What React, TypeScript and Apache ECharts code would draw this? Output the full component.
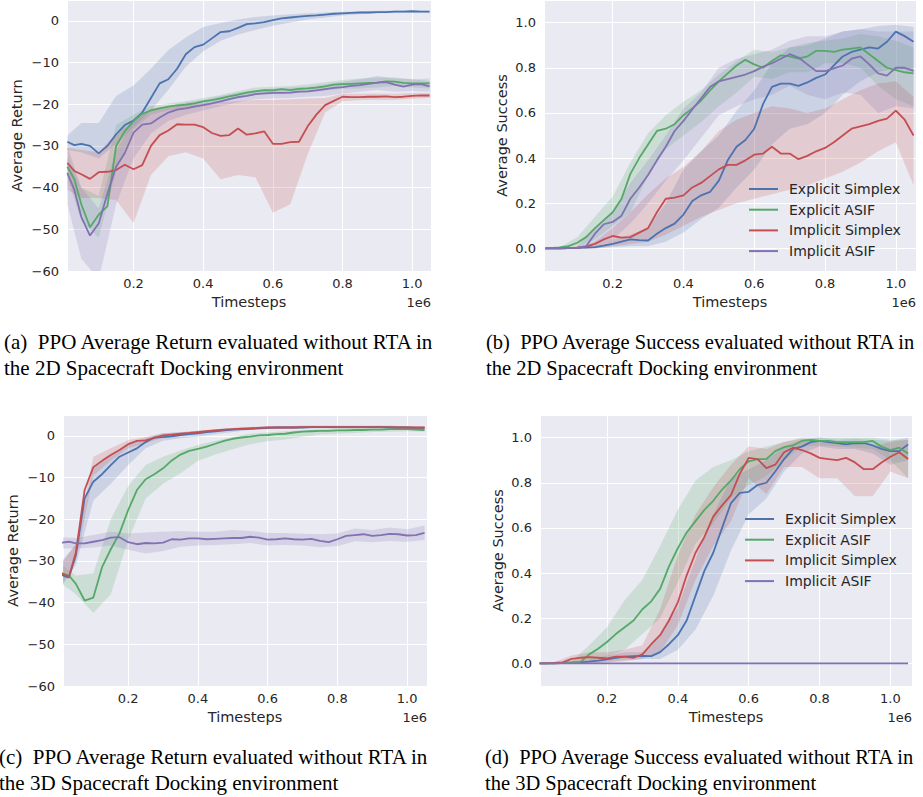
import React, { useEffect, useRef } from 'react';
import * as echarts from 'echarts';

// ---------- shared x positions (in millions of timesteps) ----------
const X = [0.01, 0.03, 0.05, 0.075, 0.1, 0.125, 0.15, 0.175, 0.2, 0.225, 0.25, 0.275, 0.3, 0.325, 0.35, 0.375, 0.4, 0.425, 0.45, 0.475, 0.5, 0.525, 0.55, 0.575, 0.6, 0.625, 0.65, 0.675, 0.7, 0.725, 0.75, 0.775, 0.8, 0.825, 0.85, 0.875, 0.9, 0.925, 0.95, 0.975, 1.0, 1.025, 1.05];
const BAND_X = [0.01, 0.05, 0.1, 0.15, 0.2, 0.25, 0.3, 0.35, 0.4, 0.45, 0.5, 0.55, 0.6, 0.65, 0.7, 0.75, 0.8, 0.85, 0.9, 0.95, 1.0, 1.05];

const SERIES_NAMES = ['Explicit Simplex', 'Explicit ASIF', 'Implicit Simplex', 'Implicit ASIF'];
const X_TICKS = [0.2, 0.4, 0.6, 0.8, 1.0];

// ---------- (a) 2D average return ----------
const A_ES = [-29.0, -29.8, -29.5, -30.0, -31.8, -30.0, -27.2, -25.0, -23.9, -22.0, -18.5, -15.0, -14.0, -11.5, -8.0, -6.3, -5.7, -4.2, -2.7, -2.5, -1.7, -0.8, -0.6, -0.3, 0.2, 0.6, 0.8, 1.0, 1.2, 1.3, 1.5, 1.7, 1.8, 1.9, 2.0, 2.0, 2.1, 2.1, 2.2, 2.2, 2.3, 2.2, 2.2];
const A_EA = [-35, -38, -44, -49.5, -46.5, -44.5, -30, -26.5, -24, -22.3, -21.5, -21.0, -20.6, -20.3, -20.1, -19.8, -19.3, -19.0, -18.6, -18.1, -17.7, -17.2, -16.9, -16.6, -16.7, -16.4, -16.6, -16.3, -16.2, -16.0, -15.7, -15.3, -15.2, -15.1, -15.0, -14.9, -14.8, -14.5, -14.6, -14.9, -15.0, -15.0, -15.0];
const A_IS = [-34.1, -36.0, -36.8, -37.9, -36.3, -36.2, -35.8, -34.5, -35.6, -34.6, -30.0, -27.4, -26.3, -24.8, -24.9, -24.9, -25.5, -26.9, -27.6, -27.4, -25.8, -27.3, -27.0, -26.5, -29.5, -29.5, -29.1, -29.0, -25.3, -22.5, -20.2, -19.2, -18.2, -18.3, -18.3, -18.2, -18.2, -18.1, -18.3, -18.2, -18.0, -17.9, -17.9];
const A_IA = [-36.5, -40.5, -47, -51.5, -48.6, -41.5, -35.0, -31.7, -26.8, -24.9, -24.6, -23.2, -22.0, -21.3, -21.0, -20.6, -20.2, -19.8, -19.3, -18.8, -18.3, -18.0, -17.6, -17.4, -17.3, -17.3, -17.2, -17.0, -16.9, -16.7, -16.4, -16.1, -15.9, -15.6, -15.4, -15.1, -14.8, -14.7, -15.3, -15.8, -15.3, -15.2, -15.7];
const A_ES_LO = [-31, -31.5, -33, -29.5, -25.5, -21.5, -16.5, -11, -7.3, -4.8, -3.3, -2.2, -1.2, -0.4, 0.3, 0.8, 1.3, 1.6, 1.8, 1.9, 2.0, 1.9];
const A_ES_HI = [-27.5, -24.5, -24.5, -18, -15.5, -11.5, -7, -4, -1.5, -0.5, 0.3, 0.9, 1.3, 1.6, 1.8, 2.0, 2.2, 2.3, 2.4, 2.5, 2.5, 2.4];
const A_EA_LO = [-37.5, -48, -52, -36, -26, -22.5, -21.5, -21, -20.2, -19.5, -18.6, -17.8, -17.6, -17.5, -17.2, -16.7, -16.3, -16.2, -16, -15.6, -16, -16.2];
const A_EA_HI = [-32.5, -40, -42, -25, -22.5, -20.5, -19.8, -19.3, -18.5, -17.8, -16.8, -16, -15.8, -15.6, -15.2, -14.7, -14.2, -13.8, -13.6, -13.6, -14, -13.8];
const A_IS_LO = [-40.5, -42.5, -42.5, -43, -48.5, -37, -32.5, -31.5, -33, -38, -37, -37.5, -46, -44, -32, -22, -19.3, -19, -18.9, -19, -18.7, -18.5];
const A_IS_HI = [-30.5, -31, -31.5, -27, -24, -21, -20.5, -20, -19.8, -19.5, -19.2, -19, -19, -18.8, -18.6, -18.5, -17.5, -17.5, -17.4, -17.5, -17.3, -17.3];
const A_IA_LO = [-44, -57, -62, -44, -33, -27, -24, -22.5, -21.5, -20.5, -19.5, -18.8, -18.6, -18.5, -18.2, -18, -17.4, -17, -16.6, -17, -16.8, -17];
const A_IA_HI = [-30, -40, -45, -31, -24, -21.5, -20.5, -19.5, -19, -18, -17.2, -16.6, -16.2, -16, -15.8, -15.2, -14.6, -14, -13.2, -13.8, -14, -14.5];

// ---------- (b) 2D average success ----------
const B_ES = [0, 0, 0, 0.001, 0.002, 0.004, 0.006, 0.012, 0.02, 0.03, 0.04, 0.037, 0.035, 0.065, 0.09, 0.11, 0.15, 0.21, 0.235, 0.25, 0.30, 0.39, 0.45, 0.48, 0.53, 0.64, 0.715, 0.73, 0.73, 0.72, 0.735, 0.755, 0.77, 0.81, 0.85, 0.87, 0.88, 0.89, 0.885, 0.915, 0.96, 0.94, 0.915];
const B_EA = [0.0, 0.002, 0.005, 0.01, 0.025, 0.05, 0.09, 0.125, 0.16, 0.22, 0.33, 0.40, 0.46, 0.52, 0.53, 0.55, 0.59, 0.62, 0.655, 0.70, 0.74, 0.775, 0.81, 0.835, 0.815, 0.80, 0.83, 0.855, 0.85, 0.84, 0.85, 0.875, 0.875, 0.87, 0.88, 0.885, 0.89, 0.86, 0.83, 0.80, 0.79, 0.78, 0.775];
const B_IS = [0, 0, 0, 0.001, 0.003, 0.008, 0.02, 0.04, 0.055, 0.048, 0.05, 0.07, 0.09, 0.16, 0.22, 0.225, 0.235, 0.27, 0.29, 0.32, 0.35, 0.37, 0.37, 0.39, 0.415, 0.42, 0.45, 0.42, 0.42, 0.395, 0.41, 0.43, 0.445, 0.47, 0.50, 0.53, 0.54, 0.55, 0.565, 0.575, 0.61, 0.57, 0.50];
const B_IA = [0, 0, 0, 0.001, 0.003, 0.01, 0.065, 0.107, 0.117, 0.145, 0.22, 0.27, 0.325, 0.39, 0.45, 0.52, 0.565, 0.615, 0.665, 0.715, 0.74, 0.75, 0.76, 0.77, 0.785, 0.805, 0.82, 0.84, 0.86, 0.845, 0.815, 0.785, 0.785, 0.797, 0.81, 0.84, 0.85, 0.815, 0.775, 0.765, 0.80, 0.80, 0.786];
const B_ES_LO = [0, 0, 0, 0, 0.005, 0.01, 0.01, 0.03, 0.07, 0.13, 0.18, 0.27, 0.35, 0.46, 0.53, 0.55, 0.6, 0.68, 0.74, 0.78, 0.8, 0.78];
const B_ES_HI = [0, 0, 0.005, 0.01, 0.04, 0.06, 0.09, 0.2, 0.35, 0.43, 0.5, 0.61, 0.7, 0.82, 0.89, 0.9, 0.93, 0.96, 0.97, 0.985, 0.99, 0.98];
const B_EA_LO = [0, 0, 0.005, 0.04, 0.10, 0.16, 0.32, 0.44, 0.50, 0.56, 0.63, 0.69, 0.76, 0.75, 0.78, 0.78, 0.82, 0.82, 0.80, 0.72, 0.66, 0.63];
const B_EA_HI = [0.002, 0.005, 0.05, 0.14, 0.23, 0.38, 0.51, 0.59, 0.65, 0.70, 0.77, 0.83, 0.88, 0.87, 0.89, 0.91, 0.92, 0.93, 0.95, 0.94, 0.92, 0.89];
const B_IS_LO = [0, 0, 0, 0, 0.01, 0.02, 0.03, 0.06, 0.1, 0.14, 0.17, 0.2, 0.22, 0.24, 0.26, 0.28, 0.31, 0.34, 0.38, 0.43, 0.47, 0.28];
const B_IS_HI = [0, 0, 0.005, 0.03, 0.09, 0.16, 0.24, 0.31, 0.36, 0.43, 0.52, 0.57, 0.6, 0.63, 0.62, 0.6, 0.62, 0.66, 0.7, 0.73, 0.74, 0.67];
const B_IA_LO = [0, 0, 0, 0.01, 0.04, 0.11, 0.2, 0.3, 0.39, 0.49, 0.59, 0.63, 0.66, 0.68, 0.72, 0.68, 0.66, 0.69, 0.68, 0.6, 0.63, 0.62];
const B_IA_HI = [0, 0.002, 0.01, 0.09, 0.16, 0.29, 0.39, 0.5, 0.62, 0.69, 0.8, 0.84, 0.86, 0.88, 0.92, 0.94, 0.94, 0.96, 0.97, 0.96, 0.96, 0.96];

// ---------- (c) 3D average return ----------
const C_ES = [-33.4, -34.0, -28.5, -15, -11, -9.2, -7, -5, -4, -3, -1.5, -0.4, -0.3, -0.1, 0.2, 0.4, 0.6, 0.9, 1.1, 1.3, 1.5, 1.6, 1.7, 1.8, 1.9, 2.0, 2.0, 2.0, 2.0, 2.1, 2.1, 2.1, 2.1, 2.1, 2.1, 2.1, 2.1, 2.1, 2.0, 2.0, 2.0, 1.9, 1.9];
const C_EA = [-33, -33.5, -35.5, -39.5, -38.8, -31.5, -27.2, -23.4, -17.8, -13, -10.4, -9.2, -7.8, -5.9, -4.5, -3.6, -3.1, -2.6, -1.9, -1.2, -0.7, -0.4, -0.2, 0.1, 0.2, 0.4, 0.5, 0.8, 1.0, 1.1, 1.2, 1.2, 1.3, 1.3, 1.4, 1.4, 1.5, 1.5, 1.6, 1.6, 1.6, 1.5, 1.4];
const C_IS = [-33, -33.8, -28, -13, -7.5, -6.0, -4.6, -3.4, -2.0, -1.2, -1.1, -0.5, 0.1, 0.3, 0.5, 0.7, 0.9, 1.1, 1.3, 1.5, 1.6, 1.7, 1.8, 1.9, 2.0, 2.0, 2.0, 2.0, 2.1, 2.1, 2.1, 2.1, 2.1, 2.1, 2.1, 2.1, 2.1, 2.1, 2.1, 2.0, 2.0, 2.0, 2.0];
const C_IA = [-25.6, -25.4, -25.8, -25.8, -25.4, -25.0, -24.4, -24.3, -25.5, -26.0, -25.7, -25.8, -25.6, -24.8, -24.9, -24.6, -24.6, -24.8, -24.7, -24.6, -24.5, -24.5, -24.2, -24.4, -24.9, -24.8, -24.6, -24.8, -24.9, -24.7, -25.2, -25.5, -24.8, -24.0, -23.8, -23.6, -24.0, -23.8, -23.5, -23.6, -23.9, -23.8, -23.3];
const C_ES_LO = [-36, -31, -15.5, -11.5, -7, -3, -1.2, -0.6, -0.2, 0.4, 0.9, 1.4, 1.6, 1.7, 1.8, 1.8, 1.8, 1.8, 1.8, 1.8, 1.7, 1.6];
const C_ES_HI = [-30, -26, -7.5, -4.5, -2, -0.5, 0.6, 0.9, 1.2, 1.6, 1.9, 2.1, 2.3, 2.3, 2.4, 2.4, 2.4, 2.4, 2.4, 2.4, 2.3, 2.2];
const C_EA_LO = [-35.5, -38, -42.5, -38, -25, -15, -11.5, -9, -6, -4.5, -3.2, -2.0, -1.3, -0.9, -0.2, 0.3, 0.5, 0.7, 0.9, 1.0, 1.1, 1.0];
const C_EA_HI = [-31, -33.5, -33, -20, -12, -7, -5, -3.5, -2.2, -1.2, -0.3, 0.5, 0.8, 1.1, 1.4, 1.6, 1.8, 1.9, 2.0, 2.1, 2.1, 2.0];
const C_IS_LO = [-35.5, -30, -9.5, -6, -3, -1.8, -0.4, 0.2, 0.6, 1.0, 1.3, 1.5, 1.7, 1.8, 1.8, 1.8, 1.8, 1.8, 1.8, 1.8, 1.7, 1.7];
const C_IS_HI = [-30.5, -26, -5, -3, -1, -0.3, 0.6, 0.8, 1.2, 1.6, 1.9, 2.1, 2.3, 2.3, 2.4, 2.4, 2.4, 2.4, 2.4, 2.4, 2.3, 2.3];
const C_IA_LO = [-27, -27, -26.8, -26.3, -27.3, -28.2, -27.6, -26.6, -26.3, -26.2, -26, -25.7, -26.3, -26.2, -26.3, -26.7, -26.4, -25.3, -25.5, -25.2, -25.4, -25];
const C_IA_HI = [-24.3, -24.5, -23.8, -23.0, -23.4, -23.2, -23, -22.8, -23.0, -23, -22.6, -22.8, -23.3, -23.3, -23.5, -23.6, -23.4, -22.2, -22.6, -22.0, -22.4, -21.5];

// ---------- (d) 3D average success ----------
const D_ES = [0, 0, 0, 0.001, 0.003, 0.005, 0.008, 0.012, 0.018, 0.025, 0.03, 0.032, 0.033, 0.032, 0.05, 0.085, 0.125, 0.19, 0.3, 0.41, 0.49, 0.6, 0.71, 0.755, 0.76, 0.79, 0.8, 0.85, 0.905, 0.95, 0.96, 0.98, 0.985, 0.98, 0.975, 0.97, 0.975, 0.975, 0.965, 0.95, 0.94, 0.94, 0.97];
const D_EA = [0, 0, 0, 0.002, 0.004, 0.007, 0.04, 0.065, 0.095, 0.13, 0.16, 0.19, 0.24, 0.275, 0.33, 0.43, 0.51, 0.58, 0.63, 0.68, 0.72, 0.77, 0.81, 0.86, 0.895, 0.905, 0.905, 0.94, 0.958, 0.965, 0.985, 0.99, 0.985, 0.985, 0.98, 0.98, 0.98, 0.98, 0.985, 0.96, 0.945, 0.955, 0.93];
const D_IS = [0, 0, 0.002, 0.005, 0.02, 0.025, 0.028, 0.025, 0.022, 0.03, 0.03, 0.025, 0.04, 0.085, 0.125, 0.19, 0.27, 0.39, 0.49, 0.56, 0.65, 0.70, 0.745, 0.84, 0.91, 0.905, 0.865, 0.88, 0.935, 0.955, 0.945, 0.93, 0.91, 0.905, 0.90, 0.91, 0.89, 0.86, 0.86, 0.89, 0.915, 0.935, 0.905];
const D_IA = [0, 0, 0, 0, 0, 0, 0, 0, 0, 0, 0, 0, 0, 0, 0, 0, 0, 0, 0, 0, 0, 0, 0, 0, 0, 0, 0, 0, 0, 0, 0, 0, 0, 0, 0, 0, 0, 0, 0, 0, 0, 0, 0];
const D_ES_LO = [0, 0, 0, 0, 0.005, 0.015, 0.02, 0.02, 0.06, 0.15, 0.3, 0.5, 0.66, 0.73, 0.85, 0.93, 0.96, 0.95, 0.95, 0.93, 0.88, 0.9];
const D_ES_HI = [0, 0, 0.01, 0.02, 0.035, 0.05, 0.05, 0.12, 0.25, 0.46, 0.66, 0.82, 0.86, 0.9, 0.96, 0.99, 1.0, 0.99, 0.995, 0.99, 0.985, 1.0];
const D_EA_LO = [0, 0, 0, 0.01, 0.03, 0.06, 0.13, 0.2, 0.36, 0.53, 0.62, 0.73, 0.79, 0.83, 0.9, 0.96, 0.965, 0.96, 0.955, 0.95, 0.9, 0.82];
const D_EA_HI = [0, 0, 0.01, 0.08, 0.16, 0.28, 0.37, 0.52, 0.68, 0.81, 0.87, 0.9, 0.94, 0.96, 0.98, 1.0, 1.0, 1.0, 1.0, 1.0, 0.99, 0.99];
const D_IS_LO = [0, 0, 0, 0, 0.005, 0.01, 0.02, 0.05, 0.17, 0.37, 0.52, 0.63, 0.82, 0.75, 0.87, 0.87, 0.82, 0.82, 0.74, 0.74, 0.85, 0.82];
const D_IS_HI = [0, 0.005, 0.035, 0.05, 0.05, 0.06, 0.08, 0.24, 0.48, 0.66, 0.78, 0.88, 0.96, 0.95, 0.98, 0.995, 0.99, 0.98, 0.975, 0.96, 0.98, 0.99];
const D_IA_LO = [0, 0, 0, 0, 0, 0, 0, 0, 0, 0, 0, 0, 0, 0, 0, 0, 0, 0, 0, 0, 0, 0];
const D_IA_HI = [0, 0, 0, 0, 0, 0, 0, 0, 0, 0, 0, 0, 0, 0, 0, 0, 0, 0, 0, 0, 0, 0];

const CAPTIONS = [
  '(a)  PPO Average Return evaluated without RTA in\nthe 2D Spacecraft Docking environment',
  '(b)  PPO Average Success evaluated without RTA in\nthe 2D Spacecraft Docking environment',
  '(c)  PPO Average Return evaluated without RTA in\nthe 3D Spacecraft Docking environment',
  '(d)  PPO Average Success evaluated without RTA in\nthe 3D Spacecraft Docking environment',
];

const PANEL_DATA = [
  { kind: 'return', means: [A_ES, A_EA, A_IS, A_IA], los: [A_ES_LO, A_EA_LO, A_IS_LO, A_IA_LO], his: [A_ES_HI, A_EA_HI, A_IS_HI, A_IA_HI], legend: false },
  { kind: 'success', means: [B_ES, B_EA, B_IS, B_IA], los: [B_ES_LO, B_EA_LO, B_IS_LO, B_IA_LO], his: [B_ES_HI, B_EA_HI, B_IS_HI, B_IA_HI], legend: true },
  { kind: 'return', means: [C_ES, C_EA, C_IS, C_IA], los: [C_ES_LO, C_EA_LO, C_IS_LO, C_IA_LO], his: [C_ES_HI, C_EA_HI, C_IS_HI, C_IA_HI], legend: false },
  { kind: 'success', means: [D_ES, D_EA, D_IS, D_IA], los: [D_ES_LO, D_EA_LO, D_IS_LO, D_IA_LO], his: [D_ES_HI, D_EA_HI, D_IS_HI, D_IA_HI], legend: true },
];

// ---------- layout & style ----------
const COLORS = ['#4C72B0', '#55A868', '#C44E52', '#8172B2'];
const LAYOUT = [
  { left: 67, top: 0, width: 364, height: 271, xMin: 0.009, xMax: 1.054, yNameGap: 43, capX: 4, capY: 329, capSize: 21, legendLeft: 749, legendTop: 181 },
  { left: 544, top: 0, width: 372, height: 271, xMin: 0.006, xMax: 1.057, yNameGap: 35, capX: 486, capY: 329, capSize: 20.5, legendLeft: 749, legendTop: 181 },
  { left: 63, top: 415, width: 364, height: 271, xMin: 0.013, xMax: 1.057, yNameGap: 43, capX: -1, capY: 744, capSize: 21, legendLeft: 745, legendTop: 511 },
  { left: 540, top: 415, width: 372, height: 271, xMin: 0.011, xMax: 1.061, yNameGap: 35, capX: 485, capY: 744, capSize: 20.5, legendLeft: 745, legendTop: 511 },
];
const TEXT = '#262626';
const SANS = '"DejaVu Sans", sans-serif';
const SERIF = '"Liberation Serif", "Times New Roman", serif';

function rgba(hex: string, a: number) {
  const n = parseInt(hex.slice(1), 16);
  return `rgba(${(n >> 16) & 255},${(n >> 8) & 255},${n & 255},${a})`;
}
function fmt(v: number, d: number) {
  const s = Math.abs(v).toFixed(d);
  return v < -1e-9 ? '\u2212' + s : s;
}

function buildOption() {
  const grid: any[] = [];
  const xAxis: any[] = [];
  const yAxis: any[] = [];
  const series: any[] = [];
  const legend: any[] = [];
  const graphic: any[] = [];

  PANEL_DATA.forEach((p, g) => {
    const L = LAYOUT[g];
    grid.push({ left: L.left, top: L.top, width: L.width, height: L.height, show: true, backgroundColor: '#EAEAF2', borderWidth: 0, containLabel: false, outerBoundsMode: 'none' });
    xAxis.push({
      type: 'value', gridIndex: g, min: L.xMin, max: L.xMax, minInterval: 0.2, maxInterval: 0.2,
      axisLine: { show: false }, axisTick: { show: false },
      splitLine: { show: true, lineStyle: { color: '#FFFFFF', width: 1 } },
      axisLabel: { showMinLabel: false, showMaxLabel: false, margin: 6, fontSize: 13, color: TEXT, fontFamily: SANS,
        formatter: (v: number) => (X_TICKS.some((t) => Math.abs(t - v) < 1e-6) ? fmt(v, 1) : '') },
      name: 'Timesteps', nameLocation: 'middle', nameGap: 23,
      nameTextStyle: { fontSize: 14.5, color: TEXT, fontFamily: SANS },
    });
    const isRet = p.kind === 'return';
    yAxis.push({
      type: 'value', gridIndex: g,
      ...(isRet ? { min: -60, max: 5, interval: 10 } : { min: -0.1, max: 1.1, minInterval: 0.2, maxInterval: 0.2 }),
      axisLine: { show: false }, axisTick: { show: false },
      splitLine: { show: true, lineStyle: { color: '#FFFFFF', width: 1 } },
      axisLabel: { showMinLabel: isRet, showMaxLabel: false, margin: 8, fontSize: 13, color: TEXT, fontFamily: SANS,
        formatter: (v: number) => fmt(v, isRet ? 0 : 1) },
      name: isRet ? 'Average Return' : 'Average Success', nameLocation: 'middle', nameGap: L.yNameGap,
      nameTextStyle: { fontSize: 14.5, color: TEXT, fontFamily: SANS },
    });

    // confidence bands
    p.means.forEach((_m, s) => {
      const lo = p.los[s];
      const hi = p.his[s];
      const color = COLORS[s];
      series.push({
        type: 'custom', name: `band-${g}-${s}`, xAxisIndex: g, yAxisIndex: g, silent: true, clip: true, z: 1,
        data: [[BAND_X[0], lo[0]]],
        renderItem: (_params: any, api: any) => {
          const pts: number[][] = [];
          for (let k = 0; k < BAND_X.length; k++) pts.push(api.coord([BAND_X[k], hi[k]]));
          for (let k = BAND_X.length - 1; k >= 0; k--) pts.push(api.coord([BAND_X[k], lo[k]]));
          return { type: 'polygon', shape: { points: pts }, style: { fill: rgba(color, 0.2), stroke: 'none' } };
        },
      });
    });
    // mean lines
    p.means.forEach((m, s) => {
      series.push({
        type: 'line', name: SERIES_NAMES[s], xAxisIndex: g, yAxisIndex: g, z: 3, silent: true, clip: true,
        data: X.map((x, k) => [x, m[k]]), showSymbol: false, symbol: 'none',
        color: COLORS[s], lineStyle: { color: COLORS[s], width: 1.8 }, itemStyle: { color: COLORS[s] },
      });
    });

    if (p.legend) {
      legend.push({
        data: SERIES_NAMES, orient: 'vertical', left: L.legendLeft, top: L.legendTop, padding: 0,
        icon: 'rect', itemWidth: 29, itemHeight: 2, itemGap: 4.7, selectedMode: false,
        textStyle: { fontSize: 14, color: TEXT, fontFamily: SANS, lineHeight: 16, padding: [0, 0, 0, 6] },
      });
    }

    graphic.push({
      type: 'text', x: L.left + L.width, y: L.top + L.height + 31,
      style: { text: '1e6', fontSize: 13, fontFamily: SANS, fill: TEXT, align: 'right', verticalAlign: 'middle', textAlign: 'right', textVerticalAlign: 'middle' },
    });
    graphic.push({
      type: 'text', x: L.capX, y: L.capY,
      style: { text: CAPTIONS[g], fontSize: L.capSize, fontFamily: SERIF, fill: '#000000', lineHeight: 26, align: 'left', verticalAlign: 'top', textAlign: 'left', textVerticalAlign: 'top' },
    });
  });

  return { animation: false, backgroundColor: '#FFFFFF', grid, xAxis, yAxis, series, legend, graphic };
}

export default function App() {
  const ref = useRef<HTMLDivElement>(null);
  useEffect(() => {
    const chart = echarts.init(ref.current as HTMLDivElement, null, { renderer: 'svg' });
    chart.setOption(buildOption() as any);
    return () => chart.dispose();
  }, []);
  return <div ref={ref} style={{ position: 'absolute', left: 0, top: 0, width: 923, height: 797, background: '#fff' }} />;
}
